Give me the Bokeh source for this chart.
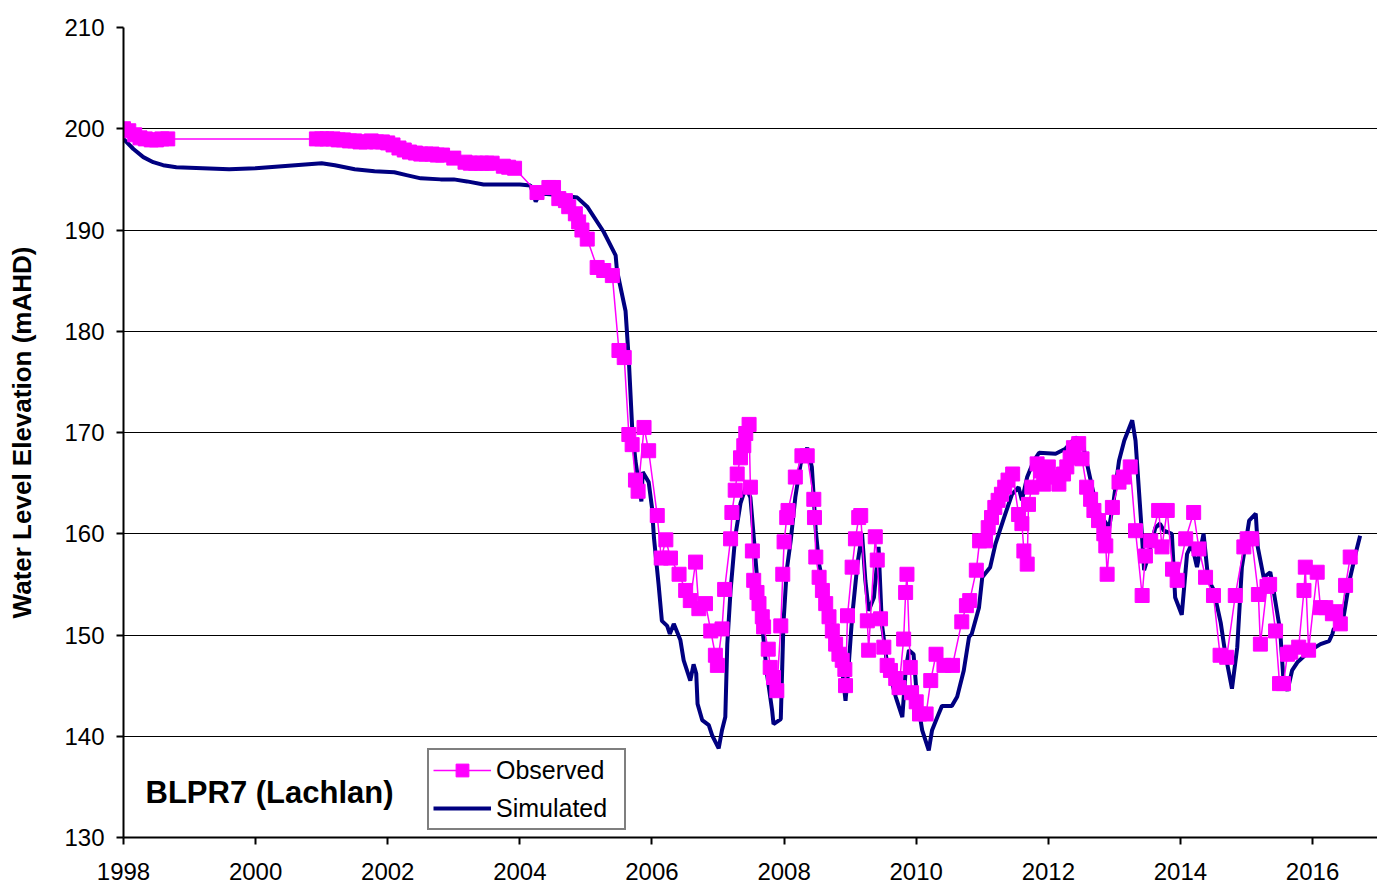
from bokeh.plotting import figure
from bokeh.models import FixedTicker, Legend, LegendItem, Label, Range1d
from bokeh.embed import file_html
from bokeh.resources import INLINE

# ---- data -------------------------------------------------------------
sim_year = [1998.00, 1998.15, 1998.30, 1998.45, 1998.60, 1998.80, 1999.20, 1999.60, 2000.00,
            2000.40, 2000.80, 2001.00, 2001.20, 2001.50, 2001.80, 2002.10, 2002.30, 2002.50,
            2002.80, 2003.00, 2003.20, 2003.45, 2003.70, 2004.00, 2004.16, 2004.24, 2004.30,
            2004.50, 2004.87, 2005.02, 2005.27, 2005.45, 2005.47, 2005.60, 2005.65, 2005.70,
            2005.75, 2005.84, 2005.86, 2005.95, 2006.00, 2006.03, 2006.10, 2006.15, 2006.23,
            2006.27, 2006.33, 2006.43, 2006.48, 2006.58, 2006.63, 2006.67, 2006.69, 2006.76,
            2006.86, 2006.91, 2007.01, 2007.06, 2007.11, 2007.14, 2007.19, 2007.26, 2007.34,
            2007.42, 2007.49, 2007.54, 2007.59, 2007.67, 2007.74, 2007.82, 2007.84, 2007.95,
            2007.99, 2008.04, 2008.10, 2008.17, 2008.25, 2008.35, 2008.42, 2008.48, 2008.53,
            2008.65, 2008.78, 2008.88, 2008.93, 2008.98, 2009.03, 2009.11, 2009.18, 2009.23,
            2009.28, 2009.36, 2009.43, 2009.48, 2009.56, 2009.69, 2009.79, 2009.84, 2009.89,
            2009.96, 2010.01, 2010.09, 2010.19, 2010.24, 2010.32, 2010.39, 2010.54, 2010.62,
            2010.72, 2010.80, 2010.84, 2010.95, 2011.00, 2011.12, 2011.20, 2011.33, 2011.45,
            2011.55, 2011.60, 2011.68, 2011.78, 2011.86, 2012.11, 2012.26, 2012.41, 2012.51,
            2012.64, 2012.74, 2012.92, 2012.99, 2013.07, 2013.15, 2013.27, 2013.32, 2013.40,
            2013.45, 2013.50, 2013.62, 2013.69, 2013.75, 2013.87, 2013.92, 2014.02, 2014.10,
            2014.17, 2014.25, 2014.35, 2014.42, 2014.50, 2014.61, 2014.68, 2014.78, 2014.86,
            2014.93, 2015.04, 2015.14, 2015.17, 2015.26, 2015.36, 2015.41, 2015.51, 2015.56,
            2015.62, 2015.69, 2015.77, 2015.97, 2016.12, 2016.25, 2016.30, 2016.32, 2016.42,
            2016.47, 2016.56, 2016.65, 2016.72]
sim_level = [199.0, 198.0, 197.2, 196.7, 196.4, 196.2, 196.1, 196.0, 196.1,
             196.3, 196.5, 196.6, 196.4, 196.0, 195.8, 195.7, 195.4, 195.1,
             195.0, 195.0, 194.8, 194.5, 194.5, 194.5, 194.4, 192.8, 193.6,
             193.5, 193.2, 192.3, 189.8, 187.5, 186.0, 182.0, 177.1, 170.5,
             167.2, 163.2, 166.1, 165.1, 162.6, 159.6, 155.0, 151.4, 150.9,
             150.1, 151.1, 149.5, 147.5, 145.5, 147.1, 146.2, 143.2, 141.6,
             141.1, 140.1, 138.8, 140.6, 141.9, 149.1, 154.4, 159.7, 163.0,
             164.6, 163.6, 159.7, 155.7, 150.8, 146.2, 142.5, 141.2, 141.7,
             151.1, 156.4, 159.3, 163.6, 166.9, 168.5, 166.6, 160.3, 157.0,
             153.1, 149.8, 146.5, 143.5, 147.2, 151.8, 157.0, 160.0, 155.4,
             152.4, 153.7, 158.7, 151.1, 147.1, 143.9, 141.9, 146.5, 148.5,
             148.1, 143.9, 140.6, 138.6, 140.6, 141.9, 143.0, 143.0, 143.9,
             146.5, 149.8, 150.1, 152.7, 155.7, 156.7, 159.0, 161.6, 163.9,
             164.6, 163.3, 165.6, 167.2, 168.0, 167.9, 168.4, 169.5, 169.2,
             165.3, 162.3, 160.6, 163.3, 167.2, 169.2, 171.2, 169.2, 161.6,
             156.4, 157.5, 160.6, 161.0, 160.3, 160.0, 153.7, 152.0, 158.0,
             159.0, 156.7, 160.0, 155.5, 154.5, 151.2, 148.1, 144.7, 148.8,
             156.7, 161.3, 162.0, 158.7, 155.7, 156.2, 154.4, 150.4, 145.5,
             144.5, 146.5, 147.3, 148.5, 149.1, 149.4, 150.1, 150.6, 150.8,
             151.8, 155.4, 158.0, 159.8]

obs_year = [1998.00, 1998.08, 1998.17, 1998.25, 1998.33, 1998.42, 1998.50, 1998.58, 1998.67,
            2000.92, 2001.00, 2001.08, 2001.17, 2001.25, 2001.33, 2001.42, 2001.50, 2001.58,
            2001.67, 2001.75, 2001.83, 2001.92, 2002.00, 2002.08, 2002.17, 2002.25, 2002.33,
            2002.42, 2002.50, 2002.58, 2002.67, 2002.75, 2002.83, 2003.00, 2003.17, 2003.25,
            2003.33, 2003.42, 2003.50, 2003.58, 2003.75, 2003.83, 2003.92, 2004.26, 2004.44,
            2004.51, 2004.59, 2004.69, 2004.74, 2004.84, 2004.89, 2004.94, 2005.02, 2005.17,
            2005.27, 2005.40, 2005.50, 2005.58, 2005.65, 2005.70, 2005.75, 2005.79, 2005.88,
            2005.95, 2006.08, 2006.14, 2006.21, 2006.28, 2006.41, 2006.51, 2006.58, 2006.66,
            2006.71, 2006.81, 2006.89, 2006.96, 2006.99, 2007.06, 2007.10, 2007.19, 2007.21,
            2007.26, 2007.29, 2007.34, 2007.39, 2007.42, 2007.47, 2007.49, 2007.52, 2007.54,
            2007.59, 2007.62, 2007.67, 2007.69, 2007.76, 2007.79, 2007.84, 2007.89, 2007.95,
            2007.98, 2008.00, 2008.04, 2008.06, 2008.17, 2008.27, 2008.35, 2008.45, 2008.46,
            2008.48, 2008.53, 2008.58, 2008.63, 2008.68, 2008.73, 2008.78, 2008.83, 2008.88,
            2008.92, 2008.93, 2008.96, 2009.03, 2009.08, 2009.13, 2009.16, 2009.26, 2009.28,
            2009.38, 2009.41, 2009.46, 2009.51, 2009.56, 2009.61, 2009.69, 2009.74, 2009.81,
            2009.84, 2009.86, 2009.91, 2009.93, 2010.00, 2010.05, 2010.15, 2010.22, 2010.30,
            2010.42, 2010.55, 2010.69, 2010.76, 2010.81, 2010.91, 2010.96, 2011.05, 2011.09,
            2011.14, 2011.19, 2011.24, 2011.29, 2011.34, 2011.39, 2011.46, 2011.55, 2011.60,
            2011.63, 2011.68, 2011.70, 2011.75, 2011.83, 2011.88, 2011.93, 2012.00, 2012.08,
            2012.16, 2012.23, 2012.28, 2012.33, 2012.38, 2012.46, 2012.51, 2012.58, 2012.64,
            2012.69, 2012.76, 2012.84, 2012.87, 2012.89, 2012.97, 2013.07, 2013.14, 2013.24,
            2013.32, 2013.42, 2013.47, 2013.55, 2013.67, 2013.72, 2013.80, 2013.88, 2013.95,
            2014.08, 2014.20, 2014.28, 2014.38, 2014.50, 2014.60, 2014.70, 2014.83, 2014.96,
            2015.01, 2015.08, 2015.18, 2015.21, 2015.31, 2015.35, 2015.44, 2015.50, 2015.56,
            2015.62, 2015.67, 2015.79, 2015.87, 2015.89, 2015.94, 2016.07, 2016.12, 2016.20,
            2016.30, 2016.35, 2016.42, 2016.50, 2016.57]
obs_level = [200.0, 199.8, 199.4, 199.1, 199.0, 198.9, 198.9, 199.0, 199.0,
             199.0, 199.0, 199.0, 199.0, 198.9, 198.9, 198.8, 198.8, 198.7,
             198.7, 198.8, 198.7, 198.7, 198.6, 198.4, 198.1, 197.9, 197.7,
             197.6, 197.5, 197.5, 197.5, 197.4, 197.4, 197.1, 196.7, 196.6,
             196.6, 196.6, 196.6, 196.6, 196.3, 196.2, 196.1, 193.7, 194.2,
             194.2, 193.1, 192.9, 192.3, 191.6, 190.8, 190.0, 189.1, 186.3,
             186.0, 185.5, 178.1, 177.4, 169.8, 168.8, 165.3, 164.2, 170.5,
             168.2, 161.8, 157.6, 159.4, 157.6, 156.0, 154.4, 153.4, 157.2,
             152.6, 153.1, 150.4, 148.0, 147.0, 150.6, 154.5, 159.5, 162.1,
             164.3, 165.9, 167.5, 168.7, 169.9, 170.8, 164.6, 158.3, 155.4,
             154.2, 153.1, 151.8, 150.8, 148.6, 146.8, 145.8, 144.5, 150.9,
             156.0, 159.2, 161.6, 162.3, 165.6, 167.7, 167.7, 163.4, 161.6,
             157.7, 155.7, 154.4, 153.1, 151.8, 150.4, 149.1, 148.1, 147.5,
             146.6, 145.0, 151.9, 156.7, 159.5, 161.6, 161.8, 151.4, 148.5,
             159.7, 157.4, 151.6, 148.8, 147.0, 146.5, 145.7, 144.8, 149.6,
             154.2, 156.0, 146.8, 144.3, 143.4, 142.2, 142.2, 145.5, 148.1,
             147.0, 147.0, 151.3, 152.9, 153.4, 156.4, 159.3, 159.3, 160.6,
             161.6, 162.6, 163.3, 163.9, 164.6, 165.3, 165.9, 161.9, 161.0,
             158.3, 157.0, 162.9, 164.6, 166.9, 166.2, 164.9, 166.6, 165.6,
             164.9, 165.9, 166.6, 167.5, 168.5, 168.9, 167.4, 164.6, 163.4,
             162.3, 161.3, 160.0, 158.8, 156.0, 162.6, 165.1, 165.6, 166.6,
             160.3, 153.9, 157.8, 159.3, 162.3, 158.7, 162.3, 156.5, 155.4,
             159.5, 162.1, 158.5, 155.7, 153.9, 148.0, 147.8, 153.9, 158.7,
             159.5, 159.5, 154.0, 149.1, 154.8, 155.0, 150.4, 145.2, 145.2,
             148.1, 148.3, 148.8, 154.4, 156.7, 148.5, 156.2, 152.7, 152.7,
             152.1, 152.3, 151.1, 154.9, 157.7]

y_ticks = [130, 140, 150, 160, 170, 180, 190, 200, 210]
grid_ticks = [140, 150, 160, 170, 180, 190, 200]
x_ticks = [1998, 2000, 2002, 2004, 2006, 2008, 2010, 2012, 2014, 2016]

FONT = "Liberation Sans"
OBS_COLOR = "#FF00FF"
SIM_COLOR = "#000080"

# ---- figure -----------------------------------------------------------
p = figure(width=1377, height=891,
           x_range=Range1d(1998, 2016.983), y_range=Range1d(130, 210),
           output_backend="svg", toolbar_location=None,
           min_border_left=123, min_border_right=0,
           min_border_top=27, min_border_bottom=54)
p.outline_line_color = None
p.background_fill_color = "white"
p.border_fill_color = "white"

p.xgrid.visible = False
p.ygrid.ticker = FixedTicker(ticks=grid_ticks)
p.ygrid.grid_line_color = "black"
p.ygrid.grid_line_width = 1

for ax in (p.xaxis[0], p.yaxis[0]):
    ax.axis_line_color = "black"
    ax.axis_line_width = 2
    ax.major_tick_line_color = "black"
    ax.major_tick_line_width = 2
    ax.major_tick_in = 0
    ax.major_tick_out = 7
    ax.minor_tick_in = 0
    ax.minor_tick_out = 0
    ax.major_label_text_font = FONT
    ax.major_label_text_font_size = "24px"
    ax.major_label_text_color = "black"

p.xaxis.ticker = FixedTicker(ticks=x_ticks)
p.yaxis.ticker = FixedTicker(ticks=y_ticks)
p.xaxis.major_label_standoff = 18
p.yaxis.major_label_standoff = 12

p.yaxis.axis_label = "Water Level Elevation (mAHD)"
p.yaxis.axis_label_text_font = FONT
p.yaxis.axis_label_text_font_style = "bold"
p.yaxis.axis_label_text_font_size = "26px"
p.yaxis.axis_label_text_color = "black"
p.yaxis.axis_label_standoff = 24

# ---- series -----------------------------------------------------------
sim_r = p.line(sim_year, sim_level, line_color=SIM_COLOR, line_width=4)
obs_l = p.line(obs_year, obs_level, line_color=OBS_COLOR, line_width=1.5)
obs_s = p.scatter(obs_year, obs_level, marker="square", size=14,
                  fill_color=OBS_COLOR, line_color=OBS_COLOR)

legend = Legend(items=[LegendItem(label="Observed", renderers=[obs_l, obs_s]),
                       LegendItem(label="Simulated", renderers=[sim_r])],
                location=(304, 7))
legend.border_line_color = "black"
legend.border_line_width = 2
legend.background_fill_color = "white"
legend.background_fill_alpha = 1
legend.label_text_font = FONT
legend.label_text_font_size = "25px"
legend.label_text_color = "black"
legend.glyph_width = 58
legend.glyph_height = 32
legend.label_height = 32
legend.label_width = 124
legend.label_standoff = 5
legend.spacing = 6
legend.padding = 4
legend.margin = 0
p.add_layout(legend)

p.add_layout(Label(x=22, y=45, x_units="screen", y_units="screen",
                   text="BLPR7 (Lachlan)", text_font=FONT,
                   text_font_style="bold", text_font_size="31px",
                   text_color="black", text_baseline="middle"))

open("out.html", "w").write(file_html(p, INLINE))
